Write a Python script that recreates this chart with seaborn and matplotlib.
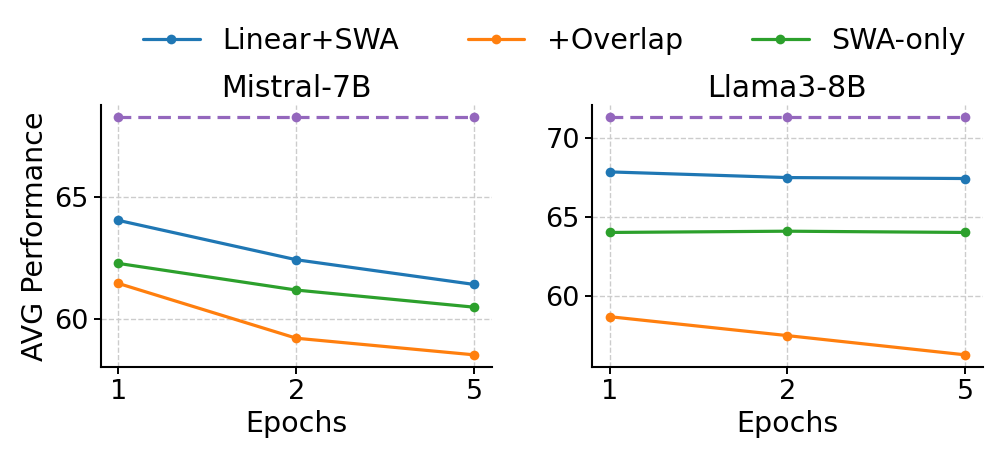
import pandas as pd
import seaborn as sns
import matplotlib.pyplot as plt

epochs = ['1', '2', '5']
models = ['Mistral-7B', 'Llama3-8B']
methods = ['Linear+SWA', '+Overlap', 'SWA-only']

mistral_scores = {'Linear+SWA': [64.04, 62.43, 61.42],
                  '+Overlap': [61.46, 59.22, 58.54],
                  'SWA-only': [62.28, 61.19, 60.49]}
llama_scores = {'Linear+SWA': [67.85, 67.49, 67.43],
                '+Overlap': [58.67, 57.47, 56.25],
                'SWA-only': [64.01, 64.09, 64.01]}
baseline = {'Mistral-7B': 68.27, 'Llama3-8B': 71.33}

scores = {'Mistral-7B': mistral_scores, 'Llama3-8B': llama_scores}
colors = {'Linear+SWA': '#1f77b4', '+Overlap': '#ff7f0e', 'SWA-only': '#2ca02c'}

sns.set_style('ticks')
plt.rcParams['font.family'] = ['DejaVu Sans']
for k in ['text.color', 'axes.labelcolor', 'xtick.color', 'ytick.color', 'axes.edgecolor']:
    plt.rcParams[k] = 'black'

fig, axes = plt.subplots(1, 2, figsize=(9.97, 4.59), dpi=100)

for ax, model in zip(axes, models):
    rows = []
    for m in methods:
        for e, v in zip(epochs, scores[model][m]):
            rows.append({'Epochs': e, 'score': v, 'method': m})
    df = pd.DataFrame(rows)
    base_df = pd.DataFrame({'Epochs': epochs, 'score': [baseline[model]] * len(epochs)})

    sns.lineplot(data=base_df, x='Epochs', y='score', ax=ax, color='#9467bd',
                 linestyle=(0, (4, 2.2)), marker='o', markersize=7, markeredgewidth=0,
                 linewidth=2.3, legend=False, zorder=3)
    sns.lineplot(data=df, x='Epochs', y='score', hue='method', hue_order=methods,
                 palette=colors, marker='o', markersize=7, markeredgewidth=0,
                 linewidth=2.3, ax=ax, zorder=3)
    ax.get_legend().remove()

    ax.set_title(model, fontsize=21.5)
    ax.set_xlabel('Epochs', fontsize=20.5)
    ax.set_ylabel('AVG Performance' if model == 'Mistral-7B' else '', fontsize=20.5)
    ax.tick_params(labelsize=19.5, width=1.4, length=5)
    ax.grid(True, linestyle='--', color='#cccccc', linewidth=1)
    ax.set_axisbelow(True)
    sns.despine(ax=ax)
    for s in ['left', 'bottom']:
        ax.spines[s].set_linewidth(1.5)

axes[0].set_yticks([60, 65])
axes[1].set_yticks([60, 65, 70])

handles, labels = axes[0].get_legend_handles_labels()
fig.legend(handles, labels, loc='center', ncol=3, frameon=False,
           fontsize=20.5, bbox_to_anchor=(0.556, 0.91), columnspacing=2.4,
           handlelength=2)

fig.subplots_adjust(left=0.101, right=0.986, top=0.771, bottom=0.201, wspace=0.255)
fig.savefig('out.png', dpi=100)
